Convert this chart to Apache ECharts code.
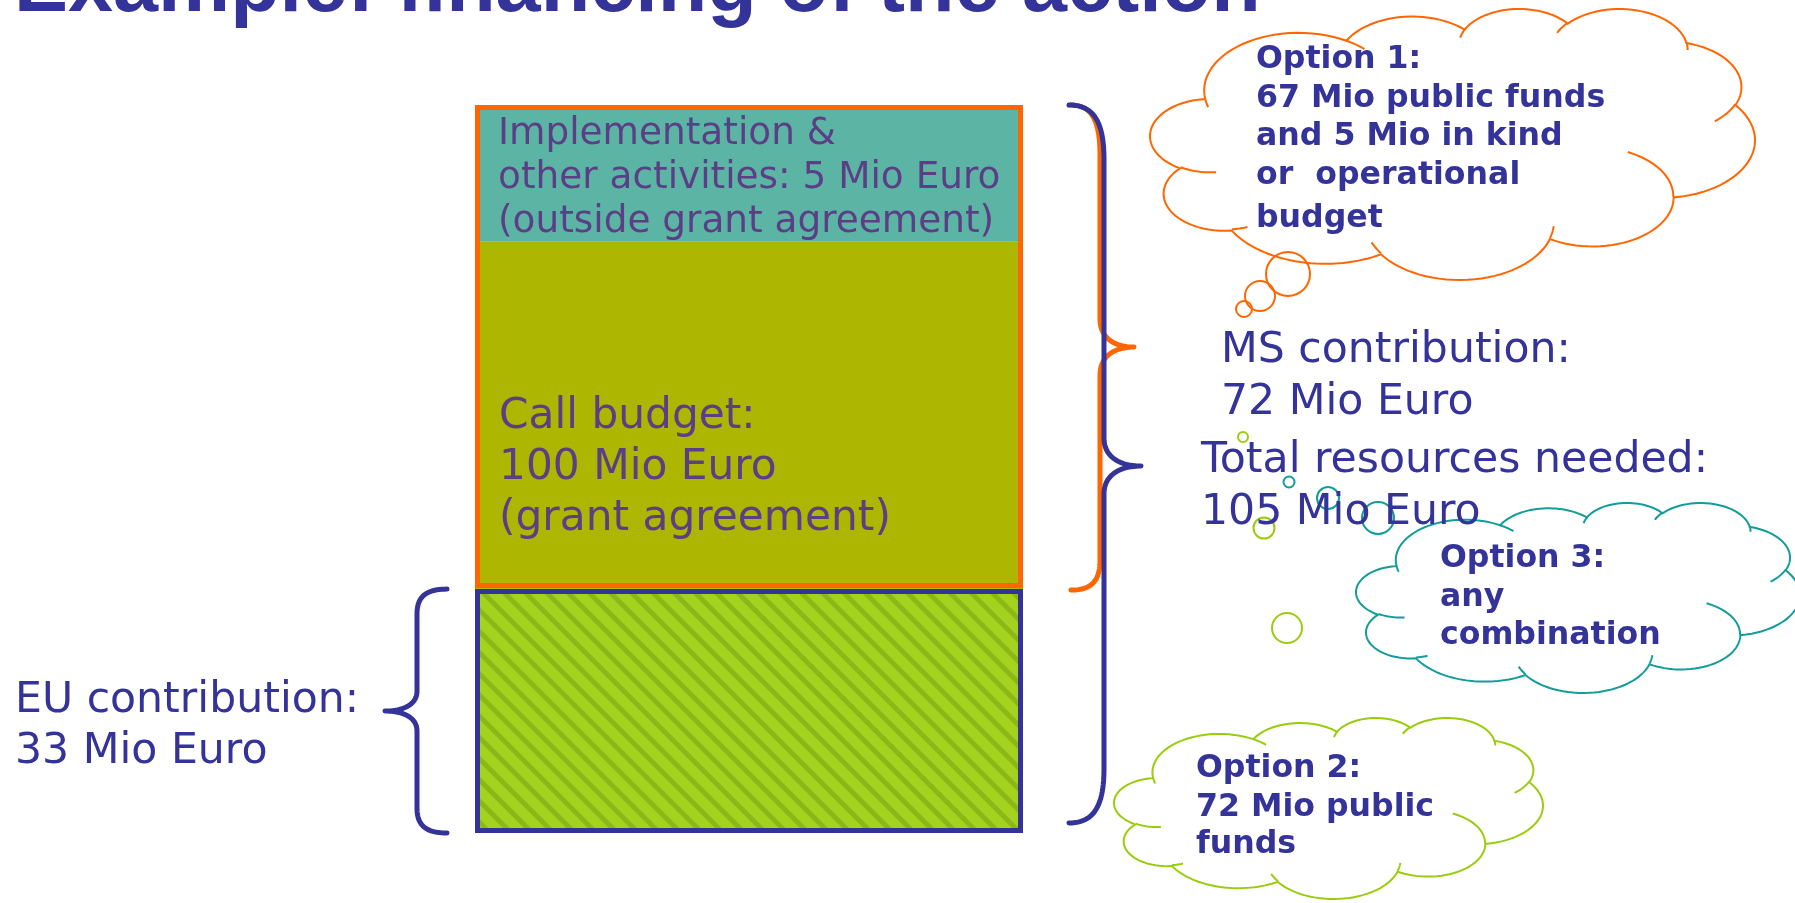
<!DOCTYPE html>
<html><head><meta charset="utf-8">
<script src="https://cdn.jsdelivr.net/npm/echarts@6/dist/echarts.min.js"></script>
<style>html,body{margin:0;padding:0;background:#fff}#c{width:1795px;height:903px}</style>
</head><body><div id="c"></div>
<script>
// ---------- data ----------
const categories = ['Financing of the action'];
const segmentNames = ['EU contribution', 'Call budget (MS part)', 'Implementation & other activities'];
const segmentHeights = [33, 47, 18.5];            // drawn heights
const frameNames = ['EU frame', 'frame gap', 'MS frame'];
const frameHeights = [33, 0.15, 65.35];           // outline boxes
const titleText = 'Example: financing of the action';
const barText = ['Implementation &', 'other activities: 5 Mio Euro', '(outside grant agreement)'];
const callText = ['Call budget:', '100 Mio Euro', '(grant agreement)'];
const euText = ['EU contribution:', '33 Mio Euro'];
const msText = ['MS contribution:', '72 Mio Euro'];
const totalText = ['Total resources needed:', '105 Mio Euro'];
const option1Text = ['Option 1:', '67 Mio public funds', 'and 5 Mio in kind', 'or  operational', 'budget'];
const option2Text = ['Option 2:', '72 Mio public', 'funds'];
const option3Text = ['Option 3:', 'any', 'combination'];

// ---------- styles ----------
const BLUE = '#333399', ORANGE = '#FF6600', TEAL = '#129C9A', GREEN = '#9ACC0E', PURPLE = '#5B3F86';
const fills = ['#A4D31F', '#ADB600', '#5CB5A4'];
const frameColors = [BLUE, null, ORANGE];

const chart = echarts.init(document.getElementById('c'), null, {renderer: 'canvas'});

const series = [];
segmentHeights.forEach((v, i) => {
  const it = {color: fills[i]};
  if (i === 0) it.decal = {symbol: 'rect', symbolSize: 1, color: '#8CB817', dashArrayX: [1, 0], dashArrayY: [5, 10], rotation: Math.PI / 4};
  series.push({name: segmentNames[i], type: 'bar', stack: 'fill', barWidth: 548, barGap: '-100%',
    data: [v], itemStyle: it, z: 2, silent: true});
});
frameHeights.forEach((v, i) => {
  series.push({name: frameNames[i], type: 'bar', stack: 'frame', barWidth: 548, barGap: '-100%',
    data: [v], z: 3, silent: true,
    itemStyle: {color: 'rgba(0,0,0,0)', borderColor: frameColors[i] || 'rgba(0,0,0,0)', borderWidth: frameColors[i] ? 5 : 0}});
});

chart.setOption({
  animation: false,
  backgroundColor: '#fff',
  grid: {left: 475, right: 772, top: 105, bottom: 70},
  xAxis: {type: 'category', data: categories, show: false},
  yAxis: {type: 'value', min: 0, max: 98.5, show: false},
  series
});

// ---------- annotations ----------
const g = [];
function yOf(v) { return chart.convertToPixel({gridIndex: 0}, [0, v])[1]; }
function addLines(lines, x, ys, font, color) {
  lines.forEach((t, i) => g.push({type: 'text', x, y: ys[i], z: 100, silent: true,
    style: {text: t, font, fill: color, align: 'left', verticalAlign: 'middle'}}));
}
addLines([titleText], 14, [-11], 'bold 81px "Liberation Sans"', BLUE);
addLines(barText, 498, [134, 178, 222], '37.4px "DejaVu Sans"', PURPLE);
addLines(callText, 499, [417, 468, 519], '42.3px "DejaVu Sans"', PURPLE);
addLines(euText, 15, [701, 752], '42.6px "DejaVu Sans"', BLUE);
addLines(msText, 1221, [351, 403], '42.6px "DejaVu Sans"', BLUE);
addLines(totalText, 1201, [461, 513], '42.6px "DejaVu Sans"', BLUE);
const bold = 'bold 31.6px "DejaVu Sans"';
addLines(option1Text, 1256, [60, 99, 137, 176, 219], bold, BLUE);
addLines(option3Text, 1440, [559, 598, 636], bold, BLUE);
addLines(option2Text, 1196, [769, 808, 845], bold, BLUE);

// cloud shape (preset cloud geometry, 43200 units)
const cloudMain = [[6753,9190,-11429249,7426832],[5333,7267,-8646143,5396714],[4365,5945,-8748475,5983381],
  [4857,6595,-7859164,7034504],[5333,7273,-4722533,6541615],[6775,9220,-2776035,7816140],[5785,7867,37501,6842000],
  [6752,9215,1347096,6910353],[7720,10543,3974558,4542661],[4360,5918,-16496525,8804134],[4345,5945,-14809710,9151131]];
const cloudInner = [[4693,26177,4345,5945,5204520,1585770],[6928,34899,4360,5918,4416628,686848],
  [16478,39090,6752,9215,8257449,844866],[28827,34751,6752,9215,387196,959901],[34129,22954,5785,7867,-4217541,4255042],
  [41798,15354,5333,7273,1819082,1665090],[38324,5426,4857,6595,-824660,891534],[29078,3952,4857,6595,-8950887,1091722],
  [22141,4720,4365,5945,-9809656,1061181],[14000,5192,6753,9190,-4002417,739161],[4127,15789,6753,9190,9459261,711490]];
function ellPt(w, h, a) { const c = Math.cos(a), s = Math.sin(a); const r = w * h / Math.hypot(h * c, w * s); return [r * c, r * s]; }
function arcPts(px, py, w, h, st, sw, n) {
  const a0 = st / 60000 * Math.PI / 180, da = sw / 60000 * Math.PI / 180;
  const e0 = ellPt(w, h, a0), cx = px - e0[0], cy = py - e0[1], pts = [];
  for (let k = 0; k <= n; k++) { const e = ellPt(w, h, a0 + da * k / n); pts.push([cx + e[0], cy + e[1]]); }
  return pts;
}
const outline = []; let cur = [3900, 14370];
cloudMain.forEach(a => { const pts = arcPts(cur[0], cur[1], a[0], a[1], a[2], a[3], 36); if (outline.length) pts.shift(); outline.push(...pts); cur = pts[pts.length - 1]; });
const inner = cloudInner.map(a => arcPts(a[0], a[1], a[2], a[3], a[4], a[5], 14));
const mnx = Math.min(...outline.map(p => p[0])), mxx = Math.max(...outline.map(p => p[0]));
const mny = Math.min(...outline.map(p => p[1])), mxy = Math.max(...outline.map(p => p[1]));
function addCloud(x0, y0, x1, y1, color) {
  const f = p => [x0 + (p[0] - mnx) / (mxx - mnx) * (x1 - x0), y0 + (p[1] - mny) / (mxy - mny) * (y1 - y0)];
  g.push({type: 'polygon', z: 50, silent: true, shape: {points: outline.map(f)}, style: {fill: 'none', stroke: color, lineWidth: 2}});
  inner.forEach(pts => g.push({type: 'polyline', z: 50, silent: true, shape: {points: pts.map(f)}, style: {fill: 'none', stroke: color, lineWidth: 2}}));
}
addCloud(1150, 9, 1755, 280, ORANGE);
addCloud(1356, 503, 1800, 693, TEAL);
addCloud(1114, 718, 1543, 899, GREEN);
function addCircle(cx, cy, r, color) {
  g.push({type: 'circle', z: 50, silent: true, shape: {cx, cy, r}, style: {fill: 'none', stroke: color, lineWidth: 2}});
}
addCircle(1288, 274, 22, ORANGE); addCircle(1260, 296, 15, ORANGE); addCircle(1244, 309, 8, ORANGE);
addCircle(1378, 518, 16, TEAL); addCircle(1328, 498, 11, TEAL); addCircle(1289, 482, 5.5, TEAL);
addCircle(1287, 628, 15, GREEN); addCircle(1264, 528, 10.5, GREEN); addCircle(1243, 437, 5, GREEN);

// braces spanning value ranges of the stack (sampled cubic curves)
function cubic(pts, p0, p1, p2, p3) {
  for (let k = 1; k <= 24; k++) {
    const t = k / 24, u = 1 - t;
    pts.push([u*u*u*p0[0] + 3*u*u*t*p1[0] + 3*u*t*t*p2[0] + t*t*t*p3[0],
              u*u*u*p0[1] + 3*u*u*t*p1[1] + 3*u*t*t*p2[1] + t*t*t*p3[1]]);
  }
}
function brace(xEnd, xV, xTip, yTop, yTip, yBot, rTop, rTip, rBot, color) {
  const hx = xEnd + (xV - xEnd) * 0.75, tx = xV + (xTip - xV) * 0.45;
  const pts = [[xEnd, yTop]];
  cubic(pts, [xEnd, yTop], [hx, yTop], [xV, yTop + rTop * 0.35], [xV, yTop + rTop]);
  pts.push([xV, yTip - rTip]);
  cubic(pts, [xV, yTip - rTip], [xV, yTip - rTip * 0.3], [tx, yTip], [xTip, yTip]);
  cubic(pts, [xTip, yTip], [tx, yTip], [xV, yTip + rTip * 0.3], [xV, yTip + rTip]);
  pts.push([xV, yBot - rBot]);
  cubic(pts, [xV, yBot - rBot], [xV, yBot - rBot * 0.35], [hx, yBot], [xEnd, yBot]);
  g.push({type: 'polyline', z: 60, silent: true, shape: {points: pts},
    style: {fill: 'none', stroke: color, lineWidth: 5, lineCap: 'round', lineJoin: 'round'}});
}
const total = segmentHeights.reduce((a, b) => a + b, 0);
const eu = segmentHeights[0];
brace(1071, 1100, 1134, yOf(total), yOf((eu + total) / 2), yOf(eu) + 1, 50, 28, 30, ORANGE);
brace(1069, 1104, 1141, yOf(total), yOf(total / 2) - 3, yOf(0) - 10, 55, 28, 55, BLUE);
brace(447, 417, 385, yOf(eu), yOf(eu / 2), yOf(0), 25, 20, 25, BLUE);

chart.setOption({graphic: {elements: g}});
</script></body></html>
